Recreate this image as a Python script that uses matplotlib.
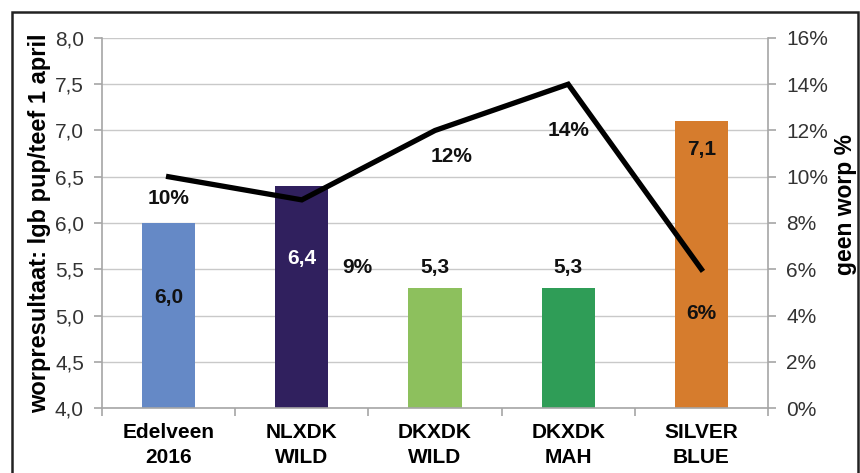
import matplotlib
matplotlib.use("Agg")
import matplotlib.pyplot as plt
from matplotlib.patches import Rectangle
from matplotlib.ticker import FuncFormatter, MultipleLocator

plt.rcParams["font.family"] = ["Liberation Sans", "DejaVu Sans"]

categories = ["Edelveen\n2016", "NLXDK\nWILD", "DKXDK\nWILD", "DKXDK\nMAH", "SILVER\nBLUE"]
litter = [6.0, 6.4, 5.3, 5.3, 7.1]            # worpresultaat (left axis)
no_litter = [10, 9, 12, 14, 6]                # geen worp % (right axis)
bar_colors = ["#6589c6", "#30205e", "#8dc05d", "#2f9d57", "#d67c2d"]

# where Excel left the labels (data units on the left axis / offsets in points)
bar_label_y = [5.2, 5.62, 5.52, 5.52, 6.79]
bar_label_col = ["#111111", "white", "#111111", "#111111", "#111111"]
pct_offsets = [(0, -16), (40, -49), (12, -19), (0, -33), (0, -32)]

GRID = "#c9c9c9"
AXC = "#a6a6a6"

fig = plt.figure(figsize=(8.6, 4.73), dpi=100)
ax = fig.add_axes([0.1186, 0.1374, 0.7744, 0.7823])
x = list(range(len(categories)))

ax.bar(x, litter, width=0.4, color=bar_colors, zorder=2)
ax.set_ylim(4.0, 8.0)
ax.set_xlim(-0.5, len(categories) - 0.5)
ax.yaxis.set_major_locator(MultipleLocator(0.5))
ax.yaxis.set_major_formatter(FuncFormatter(lambda v, p: f"{v:.1f}".replace(".", ",")))
ax.grid(axis="y", color=GRID, lw=1.0, zorder=0)
ax.set_axisbelow(True)

ax.set_xticks(x)
ax.set_xticklabels(categories, fontsize=15, fontweight="bold", linespacing=1.35)
ax.set_xticks([i - 0.5 for i in range(len(categories) + 1)], minor=True)
ax.tick_params(axis="x", which="major", length=0, pad=11)
ax.tick_params(axis="x", which="minor", length=6, color=AXC, width=1.2)
ax.tick_params(axis="y", length=6, color=AXC, width=1.2, labelsize=15,
               labelcolor="#333333", pad=7)

for s in ("top", "right"):
    ax.spines[s].set_visible(False)
for s in ("left", "bottom"):
    ax.spines[s].set_color(AXC)
    ax.spines[s].set_linewidth(1.2)

ax.set_ylabel("worpresultaat: lgb pup/teef 1 april", fontsize=17,
              fontweight="bold", labelpad=3)

for xi, v, ly, c in zip(x, litter, bar_label_y, bar_label_col):
    ax.text(xi, ly, f"{v:.1f}".replace(".", ","), ha="center", va="center",
            fontsize=15, fontweight="bold", color=c, zorder=4)

ax2 = ax.twinx()
ax2.plot(x, no_litter, color="black", lw=3.8, zorder=3, solid_joinstyle="miter")
ax2.set_ylim(0, 16)
ax2.yaxis.set_major_locator(MultipleLocator(2))
ax2.yaxis.set_major_formatter(FuncFormatter(lambda v, p: f"{v:.0f}%"))
ax2.tick_params(axis="y", length=6, color=AXC, width=1.2, labelsize=15,
                labelcolor="#333333", pad=7)
for s in ("top", "left", "bottom"):
    ax2.spines[s].set_visible(False)
ax2.spines["right"].set_color(AXC)
ax2.spines["right"].set_linewidth(1.2)
ax2.set_ylabel("geen worp %", fontsize=16.5, fontweight="bold", rotation=90,
               va="center", ha="center")
ax2.yaxis.set_label_coords(1.117, 0.55)

for xi, v, off in zip(x, no_litter, pct_offsets):
    ax2.annotate(f"{v}%", (xi, v), textcoords="offset points", xytext=off,
                 ha="center", va="center", fontsize=15, fontweight="bold",
                 color="#111111", zorder=4)

# outer frame of the figure box (runs off the bottom edge like the scan)
fig.patches.append(Rectangle((12 / 860, -0.05), 846 / 860, 1.05 - 12 / 473,
                             transform=fig.transFigure, fill=False,
                             edgecolor="#222222", lw=1.8))

fig.savefig("out.png", dpi=100)
